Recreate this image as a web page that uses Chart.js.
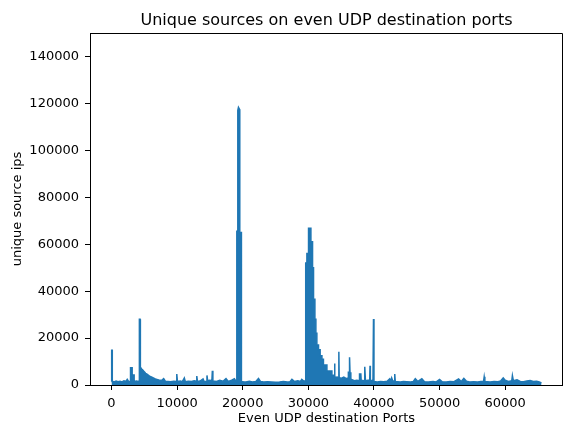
<!DOCTYPE html>
<html><head><meta charset="utf-8">
<script src="https://cdn.jsdelivr.net/npm/chart.js@4/dist/chart.umd.min.js"></script>
<style>html,body{margin:0;padding:0;background:#fff;}canvas{display:block;}</style>
</head><body>
<canvas id="c" width="563" height="423"></canvas>
<script>
const chartTitle = 'Unique sources on even UDP destination ports';
const xTitle = 'Even UDP destination Ports';
const yTitle = 'unique source ips';
const xTickValues = [0, 10000, 20000, 30000, 40000, 50000, 60000];
const yTickValues = [0, 20000, 40000, 60000, 80000, 100000, 120000, 140000];
const xRange = [-3277, 68811];
const yRange = [0, 150000];

const ports = [
  0,0,40,40,120,120,400,700,1000,1300,
  1600,1900,2200,2400,2600,2900,2900,3150,3150,3350,
  3350,3450,3450,3800,4100,4250,4250,4350,4350,4450,
  4600,4800,5000,5200,5400,5700,6000,6300,6600,6900,
  7200,7600,7950,8200,8600,9000,9500,9900,9950,10050,
  10500,10800,11100,11250,11700,12200,12600,12950,13000,13100,
  13500,13950,14100,14450,14550,14650,15000,15300,15370,15450,
  16000,16500,17000,17450,17800,18200,18720,19000,19100,19100,
  19250,19250,19350,19500,19550,19550,19800,19800,20100,20500,
  21000,21500,22000,22400,22700,23200,23800,24400,25000,25600,
  26200,26800,27200,27500,27900,28400,28800,29000,29300,29550,
  29600,29780,29780,30030,30030,30390,30390,30640,30640,30790,
  30790,31000,31000,31150,31150,31300,31300,31550,31550,31800,
  31800,32070,32070,32300,32300,32830,32830,33590,33590,33840,
  33840,33950,34000,34050,34400,34600,34650,34700,35000,35400,
  35800,36050,36100,36200,36280,36350,36450,36500,37000,37400,
  37750,37800,38000,38050,38500,38600,38700,39100,39350,39400,
  39450,39850,39930,40000,40500,41000,41500,42000,42400,42550,
  42700,42850,43100,43170,43250,44000,44500,45000,45600,46000,
  46300,46700,47300,47700,48300,49000,49500,50000,50400,51000,
  51600,52200,52900,53300,53700,54100,54600,55200,55800,56300,
  56700,56800,56900,57700,58300,58900,59300,59700,60000,60500,
  61000,61100,61250,61800,62300,62800,63300,63800,64300,64800,
  65200,65534
];
const ips = [
  1500,6200,6200,14800,14800,1600,1300,1700,1400,1600,
  1300,1800,1500,2400,1500,1600,7400,7400,2000,2000,
  4300,4300,1500,1700,1500,1800,28000,28000,8000,7600,
  6800,6300,5600,5000,4600,4000,3500,3100,2700,2400,
  2100,1900,2700,1600,1500,1400,1600,1500,4700,1500,
  1700,1400,3000,1400,1600,1500,1800,1600,3800,1500,
  1700,2600,1600,1500,4100,1800,2000,1800,6100,1700,
  1500,2000,1600,2700,1500,1900,2700,1500,1500,65500,
  65500,117000,118300,117500,117500,65000,65000,1500,1400,1300,
  1600,1300,1500,2800,1500,1300,1400,1300,1200,1300,
  1500,1300,1400,2400,1500,1800,1500,2400,1700,1800,
  52000,52000,56000,56000,66800,66800,61000,61000,50000,50000,
  36500,36500,28000,28000,22000,22000,17000,17000,15000,15000,
  12500,12500,11000,11000,8500,8500,6000,6000,4200,4200,
  3000,3000,9200,3200,3400,3000,14200,3200,2800,3400,
  2700,3000,5400,5400,11800,5400,5400,2500,1800,2000,
  1800,4700,4700,2000,1800,7800,1800,2000,2000,8200,
  2000,1800,28100,1500,1300,1500,1400,1600,2600,1500,
  3000,1800,1600,4700,1500,1300,1500,1400,1300,1500,
  2700,1500,2700,1400,1300,1500,1300,2400,1400,1300,
  1500,1400,2600,1500,2800,1600,1300,1400,1300,1500,
  1600,3500,1500,1300,1500,1400,1700,3000,2000,1500,
  1800,4000,1800,2200,1500,1400,1700,1900,1500,1600,
  1300,900
];

const FONT = 'DejaVu Sans';
const lineColor = '#1f77b4';

const framePlugin = {
  id: 'frame',
  afterDraw(chart) {
    const {ctx, chartArea: a} = chart;
    ctx.save();
    ctx.strokeStyle = '#000';
    ctx.lineWidth = 1;
    ctx.beginPath();
    ctx.moveTo(a.left, Math.round(a.top) + 0.5);
    ctx.lineTo(Math.round(a.right) - 0.5, Math.round(a.top) + 0.5);
    ctx.lineTo(Math.round(a.right) - 0.5, a.bottom);
    ctx.stroke();
    ctx.fillStyle = '#000';
    ctx.font = '16px "' + FONT + '"';
    ctx.textAlign = 'center';
    ctx.textBaseline = 'alphabetic';
    ctx.fillText(chartTitle, (a.left + a.right) / 2, 25);
    ctx.restore();
  }
};

new Chart(document.getElementById('c'), {
  type: 'line',
  data: {
    datasets: [{
      data: ports.map((p, i) => ({x: p, y: ips[i]})),
      borderColor: lineColor,
      backgroundColor: lineColor,
      borderWidth: 1.5,
      pointRadius: 0,
      tension: 0,
      fill: 'origin'
    }]
  },
  options: {
    responsive: false,
    animation: false,
    devicePixelRatio: 1,
    layout: {padding: {top: 33, right: 0, left: 0, bottom: 0}},
    plugins: {legend: {display: false}, tooltip: {enabled: false}, title: {display: false}},
    scales: {
      x: {
        type: 'linear',
        min: xRange[0], max: xRange[1],
        afterBuildTicks(s) { s.ticks = xTickValues.map(v => ({value: v})); },
        afterFit(s) { s.height = 38; },
        grid: {drawOnChartArea: false, tickLength: 5, tickColor: '#000', tickWidth: 1},
        border: {display: true, color: '#000', width: 1},
        ticks: {color: '#000', font: {family: FONT, size: 13}, padding: 6, maxRotation: 0, autoSkip: false,
          callback: v => String(v)},
        title: {display: true, text: xTitle, color: '#000', font: {family: FONT, size: 13}, padding: {top: 0, bottom: -3}}
      },
      y: {
        type: 'linear',
        min: yRange[0], max: yRange[1],
        afterBuildTicks(s) { s.ticks = yTickValues.map(v => ({value: v})); },
        afterFit(s) { s.width = 90; },
        grid: {drawOnChartArea: false, tickLength: 5, tickColor: '#000', tickWidth: 1},
        border: {display: true, color: '#000', width: 1},
        ticks: {color: '#000', font: {family: FONT, size: 13}, padding: 6, autoSkip: false,
          callback: v => String(v)},
        title: {display: true, text: yTitle, color: '#000', font: {family: FONT, size: 13}, padding: {top: 10, bottom: 0}}
      }
    }
  },
  plugins: [framePlugin]
});
</script>
</body></html>
